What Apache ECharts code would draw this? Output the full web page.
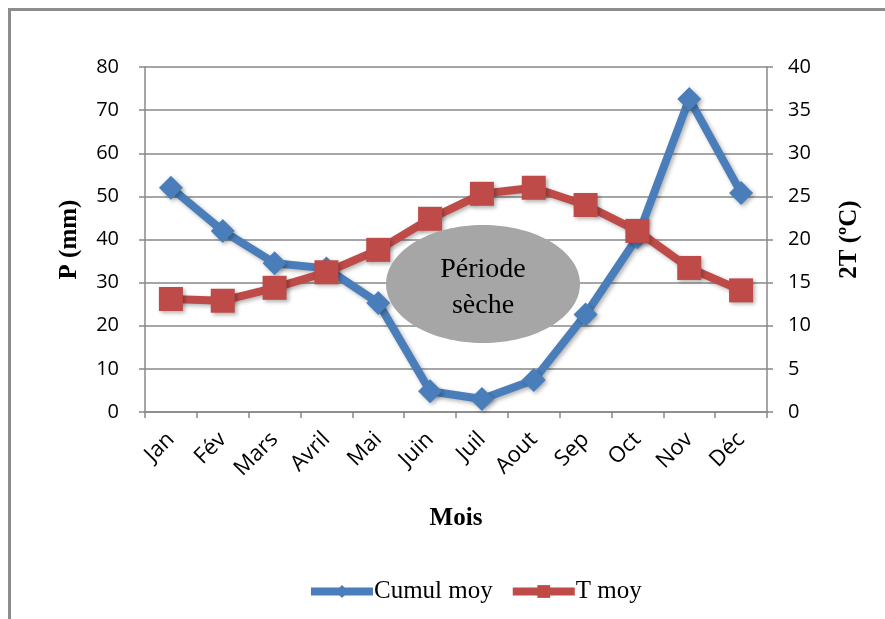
<!DOCTYPE html>
<html lang="fr">
<head>
<meta charset="UTF-8">
<title>Diagramme ombrothermique</title>
<script src="https://cdn.jsdelivr.net/npm/echarts@6/dist/echarts.min.js"></script>
<style>
  html, body { margin: 0; padding: 0; background: #fff; }
  #chart { width: 885px; height: 619px; }
</style>
</head>
<body>
<div id="chart"></div>
<script>
// months
const months = ['Jan', 'Fév', 'Mars', 'Avril', 'Mai', 'Juin', 'Juil', 'Aout', 'Sep', 'Oct', 'Nov', 'Déc'];
// precipitation (mm), left axis
const cumulMoy = [52, 42, 34.5, 33.3, 25.3, 4.8, 3, 7.4, 22.6, 40.5, 72.6, 50.8];
// 2 x temperature (°C), right axis
const tMoy = [13.1, 12.9, 14.4, 16.2, 18.8, 22.4, 25.3, 26, 24, 21, 16.7, 14.1];

const axisGrey = '#888888';
const tickFont = { fontFamily: 'Open Sans', fontSize: 20, color: '#000' };
const serif = 'Liberation Serif';
const titleStyle = { fontFamily: serif, fontSize: 25, fontWeight: 'bold', color: '#000' };

const chart = echarts.init(document.getElementById('chart'));
chart.setOption({
  animation: false,
  grid: { left: 145, right: 118, top: 67, bottom: 207 },
  legend: {
    bottom: 10,
    left: 302,
    itemWidth: 62,
    itemHeight: 16,
    itemGap: 16,
    lineStyle: { width: 8 },
    textStyle: { fontFamily: serif, fontSize: 25, color: '#000', padding: [0, 0, 0, -4] },
    data: ['Cumul moy', 'T moy']
  },
  xAxis: {
    type: 'category',
    data: months,
    boundaryGap: true,
    name: 'Mois',
    nameLocation: 'middle',
    nameGap: 94,
    nameTextStyle: titleStyle,
    axisLine: { lineStyle: { color: axisGrey, width: 1.5 } },
    axisTick: { show: true, length: 6, lineStyle: { color: axisGrey, width: 1.5 } },
    axisLabel: Object.assign({}, tickFont, { rotate: 45, margin: 24, interval: 0, fontSize: 22 })
  },
  yAxis: [
    {
      type: 'value',
      min: 0, max: 80, interval: 10,
      name: 'P (mm)',
      nameLocation: 'middle',
      nameGap: 63,
      nameTextStyle: titleStyle,
      axisLine: { show: true, lineStyle: { color: axisGrey, width: 1.5 } },
      axisTick: { show: true, length: 6, lineStyle: { color: axisGrey, width: 1.5 } },
      axisLabel: Object.assign({ margin: 26 }, tickFont),
      splitLine: { lineStyle: { color: axisGrey, width: 1.5 } }
    },
    {
      type: 'value',
      min: 0, max: 40, interval: 5,
      position: 'right',
      name: '2T (ºC)',
      nameLocation: 'middle',
      nameGap: 70,
      nameRotate: 90,
      nameTextStyle: titleStyle,
      axisLine: { show: true, lineStyle: { color: axisGrey, width: 1.5 } },
      axisTick: { show: true, length: 6, lineStyle: { color: axisGrey, width: 1.5 } },
      axisLabel: Object.assign({ margin: 21 }, tickFont),
      splitLine: { show: false }
    }
  ],
  series: [
    {
      name: 'Cumul moy',
      type: 'line',
      yAxisIndex: 0,
      data: cumulMoy,
      symbol: 'diamond',
      symbolSize: 24,
      lineStyle: { color: '#4a7ebb', width: 8, shadowColor: 'rgba(0,0,0,0.3)', shadowBlur: 4, shadowOffsetX: 2, shadowOffsetY: 2 },
      itemStyle: { color: '#4a7ebb', shadowColor: 'rgba(0,0,0,0.3)', shadowBlur: 4, shadowOffsetX: 2, shadowOffsetY: 2 },
      z: 3
    },
    {
      name: 'T moy',
      type: 'line',
      yAxisIndex: 1,
      data: tMoy,
      symbol: 'rect',
      symbolSize: 24,
      lineStyle: { color: '#be4b48', width: 8, shadowColor: 'rgba(0,0,0,0.3)', shadowBlur: 4, shadowOffsetX: 2, shadowOffsetY: 2 },
      itemStyle: { color: '#be4b48', shadowColor: 'rgba(0,0,0,0.3)', shadowBlur: 4, shadowOffsetX: 2, shadowOffsetY: 2 },
      z: 4
    }
  ],
  graphic: [
    // outer frame (top and left edges)
    { type: 'rect', shape: { x: 8, y: 8, width: 877, height: 3 }, style: { fill: '#8c8c8c' } },
    { type: 'rect', shape: { x: 8, y: 8, width: 3, height: 611 }, style: { fill: '#8c8c8c' } },
    // dry period ellipse
    {
      type: 'ellipse',
      z: 100,
      shape: { cx: 483, cy: 284, rx: 97, ry: 59 },
      style: { fill: '#a6a6a6' }
    },
    {
      type: 'text',
      z: 101,
      x: 483, y: 288,
      style: {
        text: 'Période\nsèche',
        font: '28px "Liberation Serif"',
        lineHeight: 36,
        fill: '#000',
        align: 'center',
        verticalAlign: 'middle'
      }
    }
  ]
});
</script>
</body>
</html>
